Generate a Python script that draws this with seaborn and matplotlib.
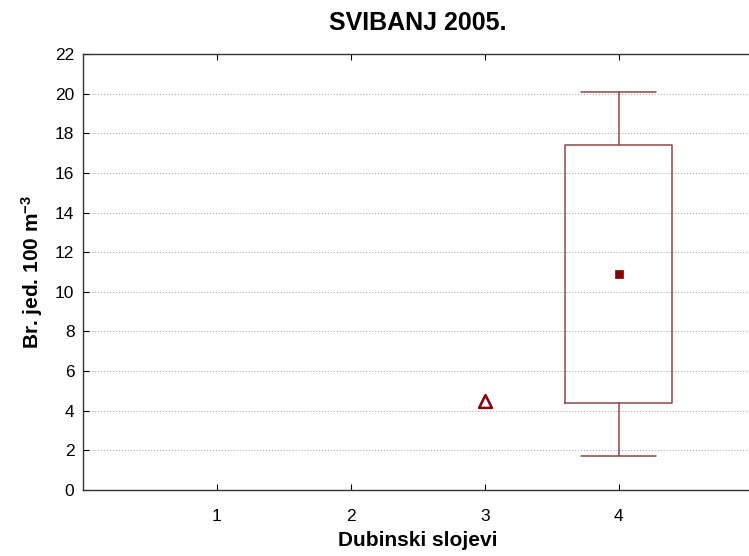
import numpy as np
import seaborn as sns
import matplotlib.pyplot as plt

sns.set_style("white")
plt.rcParams['font.family'] = ['Liberation Sans', 'DejaVu Sans']
plt.rcParams['mathtext.fontset'] = 'custom'
plt.rcParams['mathtext.rm'] = 'Liberation Sans:bold'
plt.rcParams['mathtext.default'] = 'rm'
plt.rcParams['text.color'] = 'black'
plt.rcParams['axes.labelcolor'] = 'black'
plt.rcParams['xtick.color'] = 'black'
plt.rcParams['ytick.color'] = 'black'

# summary values
layers = [1, 2, 3, 4]
box_layer = 4
box_mean = 10.9
box_q1 = 4.4
box_q3 = 17.4
box_min = 1.7
box_max = 20.1
single_layer = [3]
single_value = [4.5]

dark_red = '#8b0000'
box_col = '#904848'

fig = plt.figure(figsize=(7.49, 5.56), dpi=100)
ax = fig.add_axes([0.1105, 0.1187, 0.8945, 0.7842])

stats = [dict(med=box_mean, q1=box_q1, q3=box_q3, whislo=box_min, whishi=box_max, mean=box_mean)]
ax.bxp(stats, positions=[box_layer], widths=0.8, showfliers=False, showmeans=False,
       boxprops=dict(color=box_col, lw=1.1), whiskerprops=dict(color=box_col, lw=1.1),
       capprops=dict(color=box_col, lw=1.1), medianprops=dict(visible=False),
       capwidths=0.56, manage_ticks=False)

sns.scatterplot(x=[box_layer], y=[box_mean], marker='s', color=dark_red, s=38,
                edgecolor=dark_red, ax=ax, zorder=5)
sns.scatterplot(x=single_layer, y=single_value, marker='^', s=85, facecolor='white',
                edgecolor=dark_red, linewidth=1.8, ax=ax, zorder=5)

ax.set_xlim(0, 5)
ax.set_ylim(0, 22)
ax.set_xticks(layers)
ax.set_yticks(np.arange(0, 23, 2))
ax.yaxis.grid(True, linestyle=':', color='#b0b0b0', lw=0.8)
ax.set_axisbelow(True)
ax.tick_params(axis='x', direction='in', top=True, bottom=True, length=4, labelsize=12.5, pad=14)
ax.tick_params(axis='y', direction='in', left=True, length=4, labelsize=12.5, pad=6)
for s in ['left', 'bottom', 'top']:
    ax.spines[s].set_color('#333333')
    ax.spines[s].set_linewidth(1.0)
ax.spines['right'].set_visible(False)

ax.set_title('SVIBANJ 2005.', fontsize=18, fontweight='bold', pad=17)
ax.set_xlabel('Dubinski slojevi', fontsize=15, fontweight='bold', labelpad=5)
ax.set_ylabel('Br. jed. 100 m$^{-3}$', fontsize=15, fontweight='bold', labelpad=7)

fig.savefig('out.png', dpi=100)
